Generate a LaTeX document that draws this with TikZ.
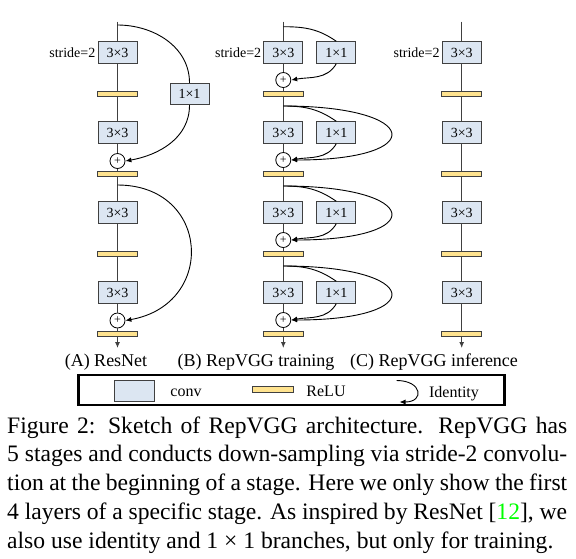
\documentclass[tikz,border=0pt]{standalone}
\usepackage{fontspec}
\setmainfont{Liberation Serif}
\usetikzlibrary{arrows.meta}
\definecolor{convfill}{HTML}{DCE6F2}
\definecolor{relufill}{HTML}{FFE38F}
\definecolor{edgegray}{HTML}{404040}
\tikzset{
  conv/.style={draw=edgegray, fill=convfill, line width=0.9pt, minimum width=39pt,
    minimum height=21.5pt, inner sep=0pt, font=\fontsize{14}{14}\selectfont},
  relu/.style={draw=edgegray, fill=relufill, line width=0.9pt, minimum width=40pt,
    minimum height=5.5pt, inner sep=0pt},
  sumnode/.style={circle, draw=black, fill=white, line width=0.8pt, minimum size=15pt,
    inner sep=0pt, font=\fontsize{12}{12}\selectfont},
  trunk/.style={draw=edgegray, line width=1pt},
  skipline/.style={draw=black, line width=0.9pt},
  headtip/.style={-{Latex[length=6pt,width=5pt]}},
  stride/.style={anchor=east, inner sep=2pt, font=\fontsize{14}{14}\selectfont},
  sublabel/.style={anchor=base, inner sep=0pt, font=\fontsize{18}{18}\selectfont},
  legendtext/.style={anchor=base, inner sep=0pt, font=\fontsize{16}{16}\selectfont}
}
\begin{document}
\begin{tikzpicture}[x=1pt,y=-1pt]
  \useasboundingbox (0,0) rectangle (576,558);
  % (A) ResNet
  \coordinate (topA) at (117.5,21.5);
  \coordinate (endA) at (117.5,348);
  \coordinate (ja1) at (117.5,25);
  \coordinate (ja2) at (117.5,185);
  \node[conv] (a1) at (117.5,52.5) {3×3};
  \node[stride] (sta) at (a1.west) {stride=2};
  \node[relu] (ra1) at (117.5,94) {};
  \node[conv] (a2) at (117.5,132.5) {3×3};
  \node[sumnode] (pa1) at (117.5,161) {+};
  \node[relu] (ra2) at (117.5,174) {};
  \node[conv] (a3) at (117.5,212.5) {3×3};
  \node[relu] (ra3) at (117.5,254) {};
  \node[conv] (a4) at (117.5,292.5) {3×3};
  \node[sumnode] (pa2) at (117.5,320.5) {+};
  \node[relu] (ra4) at (117.5,334) {};
  \node[conv] (sa) at (189.5,94) {1×1};
  \draw[trunk] (topA) -- (a1) -- (ra1) -- (a2) -- (pa1) -- (ra2) -- (a3) -- (ra3) -- (a4) -- (pa2) -- (ra4);
  \draw[trunk,headtip] (ra4) -- (endA);
  \draw[skipline] (ja1) to[out=0,in=90] (sa.north);
  \draw[skipline,headtip] (sa.south) to[out=-90,in=10] (pa1.east);
  \draw[skipline,headtip] (ja2) to[out=0,in=10,looseness=1.75] (pa2.east);
  % (B) RepVGG training
  \coordinate (topB) at (283.3,21.5);
  \coordinate (endB) at (283.3,348);
  \coordinate (jb1) at (283.3,26.7);
  \foreach \i in {1,...,4} {
    \node[conv] (b\i) at (283.3,{80*\i-27.5}) {3×3};
    \node[conv] (sb\i) at (336.3,{80*\i-27.5}) {1×1};
    \node[sumnode] (pb\i) at (283.3,{80*\i}) {+};
    \node[relu] (rb\i) at (283.3,{80*\i+14}) {};
  }
  \foreach \i in {2,3,4}
    \coordinate (jb\i) at (283.3,{80*\i-54});
  \node[stride] (stb) at (b1.west) {stride=2};
  \draw[trunk] (topB) -- (b1) -- (pb1) -- (rb1) -- (b2) -- (pb2) -- (rb2) -- (b3) -- (pb3) -- (rb3) -- (b4) -- (pb4) -- (rb4);
  \draw[trunk,headtip] (rb4) -- (endB);
  \foreach \i in {1,...,4} {
    \draw[skipline] (jb\i) to[out=0,in=145] (sb\i.north);
    \draw[skipline,headtip] (sb\i.south) to[out=-120,in=10] (pb\i.east);
  }
  \foreach \i in {2,3,4}
    \draw[skipline,headtip] (jb\i) to[out=0,in=0,looseness=6.5] (pb\i.east);
  % (C) RepVGG inference
  \coordinate (topC) at (461.7,21.5);
  \coordinate (endC) at (461.7,348);
  \foreach \i in {1,...,4} {
    \node[conv] (c\i) at (461.7,{80*\i-27.5}) {3×3};
    \node[relu] (rc\i) at (461.7,{80*\i+14}) {};
  }
  \node[stride] (stc) at (c1.west) {stride=2};
  \draw[trunk] (topC) -- (c1) -- (rc1) -- (c2) -- (rc2) -- (c3) -- (rc3) -- (c4) -- (rc4);
  \draw[trunk,headtip] (rc4) -- (endC);
  % labels
  \node[sublabel] (labA) at (106,366.7) {(A) ResNet};
  \node[sublabel] (labB) at (256,366.7) {(B) RepVGG training};
  \node[sublabel] (labC) at (434,366.7) {(C) RepVGG inference};
  % legend
  \node[draw, line width=2.5pt, minimum width=426pt, minimum height=30pt, inner sep=0pt] (legend) at (291.7,390) {};
  \node[conv, minimum width=40pt] (lconv) at (134.3,391) {};
  \node[legendtext] (tconv) at (186,396) {conv};
  \node[relu, minimum width=41pt] (lrelu) at (272.8,389.5) {};
  \node[legendtext] (trelu) at (326,396.7) {ReLU};
  \coordinate (lid1) at (396.7,380.5);
  \coordinate (lid2) at (399.5,402);
  \draw[skipline,headtip] (lid1) to[out=0,in=0,looseness=3] (lid2);
  \node[legendtext] (tid) at (454,397) {Identity};
  % caption
  \node[anchor=base west, inner sep=0pt, text width=560pt, align=justify,
    font=\fontsize{23.6}{28.8}\selectfont] (cap) at (7,433) {Figure 2: Sketch of RepVGG architecture. RepVGG has\linebreak
    5 stages and conducts down-sampling via stride-2 convolu-\linebreak
    tion at the beginning of a stage. Here we only show the first\linebreak
    4 layers of a specific stage. As inspired by ResNet [\textcolor{green}{12}], we\linebreak
    also use identity and 1\hspace{0.25em}×\hspace{0.25em}1 branches, but only for training.};
\end{tikzpicture}
\end{document}
